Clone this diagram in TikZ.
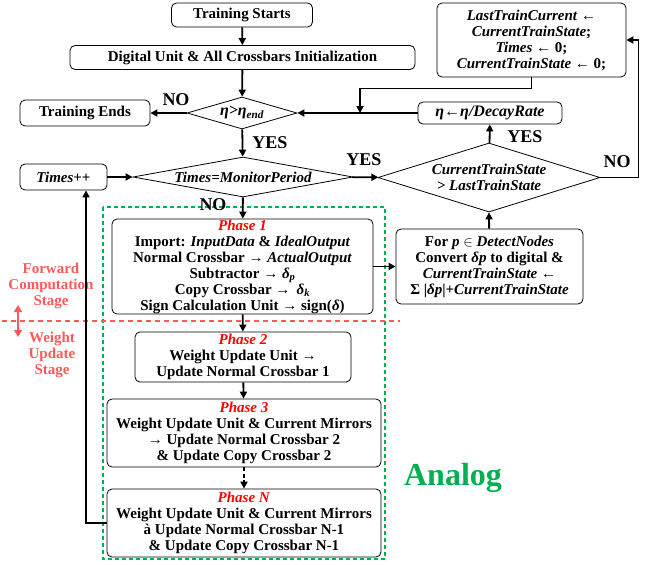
\documentclass[tikz,border=0pt]{standalone}
\usepackage{fontspec}
\setmainfont{Liberation Serif}
\usetikzlibrary{arrows.meta,shapes.geometric}
\definecolor{stageRed}{RGB}{255,90,90}
\definecolor{analogGreen}{RGB}{0,176,80}

\begin{document}
\begin{tikzpicture}[x=1pt,y=-1pt,
  font=\bfseries\fontsize{15}{16}\selectfont,
  box/.style={draw,line width=0.8pt,rounded corners=5pt,align=center,inner sep=0pt},
  cond/.style={draw,line width=0.8pt,diamond,inner sep=0pt,align=center},
  flow/.style={line width=1.8pt,-{Triangle[length=7pt,width=7pt]}},
  answer/.style={font=\bfseries\fontsize{18}{18}\selectfont},
  stage/.style={text=stageRed,align=center}
]
   \newcommand{\phaseTitle}[1]{
        \textcolor{red}{\textit{#1}}
    }
   \useasboundingbox (0,0) rectangle (646,565);

  % analog part
  \draw[analogGreen,line width=1.2pt,dash pattern=on 4pt off 3pt] (103,207) rectangle (385,559);
  \node[text=analogGreen,font=\bfseries\fontsize{32}{32}\selectfont] (analog) at (453,478) {Analog};

  \node[box,minimum width=141,minimum height=24] (start) at (242,15) {Training Starts};
  \node[box,minimum width=345,minimum height=24] (init) at (242.5,57.5) {Digital Unit \& All Crossbars Initialization};
  \node[cond,aspect=3.44,minimum width=110,minimum height=32,font=\bfseries\itshape\fontsize{16}{16}\selectfont] (eta) at (242,113) {η>η\textsubscript{end}};
  \node[box,minimum width=130,minimum height=26] (ends) at (85,113) {Training Ends};
  \node[cond,aspect=5.5,minimum width=220,minimum height=40] (monitor) at (243,177) {\textit{Times=MonitorPeriod}};
  \node[box,minimum width=87,minimum height=26] (times) at (63.5,177) {\textit{Times}++};
  \node[cond,aspect=3.2,minimum width=222,minimum height=69] (state) at (489,177.5) {\textit{CurrentTrainState}\\\textit{> LastTrainState}};
  \node[box,minimum width=144,minimum height=22,font=\bfseries\itshape\fontsize{16}{16}\selectfont] (decay) at (490,113) {η←η/DecayRate};
  \node[box,minimum width=189,minimum height=74] (last) at (531.5,40) {\textit{LastTrainCurrent} ←\\\textit{CurrentTrainState};\\\textit{Times} ← 0;\\\textit{CurrentTrainState} ← 0;};

  \node[box,minimum width=261,minimum height=95] (phaseOne) at (242.5,266.5) {\phaseTitle{Phase 1}\\Import: \textit{InputData} \& \textit{IdealOutput}\\Normal Crossbar → \textit{ActualOutput}\\Subtractor → \textit{δ}\textsubscript{\textit{p}}\\Copy Crossbar → \,\textit{δ}\textsubscript{\textit{k}}\\Sign Calculation Unit → sign(\textit{δ})};
  \node[box,minimum width=187,minimum height=75] (forp) at (489.5,266.5) {For \textit{p} $\in$ \textit{DetectNodes}\\Convert \textit{δp} to digital \&\\\textit{CurrentTrainState} ←\\Σ |\textit{δp}|+\textit{CurrentTrainState}};
  \node[box,minimum width=216,minimum height=50] (phaseTwo) at (243,357) {\phaseTitle{Phase 2}\\Weight Update Unit →\\Update Normal Crossbar 1};
  \node[box,minimum width=274,minimum height=68] (phaseThree) at (244,433) {\phaseTitle{Phase 3}\\Weight Update Unit \& Current Mirrors\\→ Update Normal Crossbar 2\\\& Update Copy Crossbar 2};
  \node[box,minimum width=274,minimum height=68] (phaseN) at (244,523) {\phaseTitle{Phase N}\\Weight Update Unit \& Current Mirrors\\à Update Normal Crossbar N-1\\\& Update Copy Crossbar N-1};

  % stages
  \draw[stageRed,line width=1.4pt,dash pattern=on 5pt off 4pt] (2,321) -- (400,321);
  \draw[stageRed,line width=1.4pt,{Triangle[length=7pt,width=8pt]}-{Triangle[length=7pt,width=8pt]}] (18,305) -- (18,337);
  \node[stage] (fwdStage) at (51,286) {Forward\\Computation\\Stage};
  \node[stage] (wuStage) at (52,355) {Weight\\Update\\Stage};

  \draw[flow] (start) -- (init);
  \draw[flow] (init) -- (eta);
  \draw[flow] (eta) -- (ends);
  \draw[flow] (eta) -- (monitor);
  \draw[flow] (times) -- (monitor);
  \draw[flow] (monitor) -- (state);
  \draw[flow] (monitor) -- (phaseOne);
  \draw[flow] (phaseOne) -- (forp);
  \draw[flow] (forp) -- (state.south);
  \draw[flow] (state) -- (decay);
  \draw[flow] (decay) -- (eta);
  \coordinate (lastJoin) at (360,113);
  \draw[flow] (last.south) -- ++(0,11) -| (lastJoin);
  \draw[flow] (state.east) -- ++(38,0) |- (last.east);
  \draw[flow] (phaseOne) -- (phaseTwo);
  \draw[flow] (phaseTwo) -- (phaseThree);
  \draw[flow,dash pattern=on 4pt off 2.5pt] (phaseThree) -- (phaseN);
  \draw[flow] (phaseN.west) -| ([xshift=22.5pt]times.south);

  \node[answer] (noEnd) at (176,100) {NO};
  \node[answer] (yesEta) at (270,143) {YES};
  \node[answer] (yesMon) at (364,160) {YES};
  \node[answer] (noMon) at (213,205) {NO};
  \node[answer] (yesState) at (525,137) {YES};
  \node[answer] (noState) at (617,162) {NO};
\end{tikzpicture}
\end{document}
